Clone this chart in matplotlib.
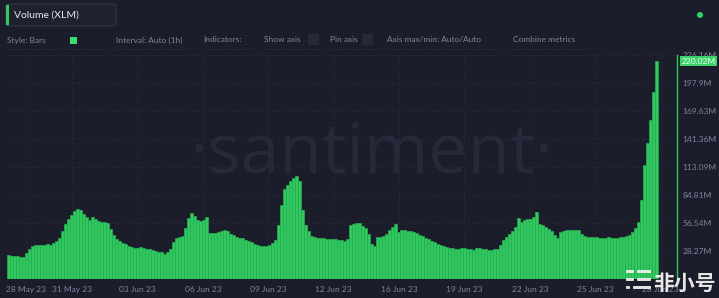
import numpy as np
import matplotlib
matplotlib.use("Agg")
import matplotlib.pyplot as plt
from matplotlib.patches import Rectangle, FancyBboxPatch, Ellipse

# Volume (XLM), millions, one bar per interval from 28 May 23 to 28 Jun 23
volume_m = [
    24.2, 23.7, 23.2, 23.2, 22.7, 22.7, 26.3, 30.3, 33.8, 34.3,
    34.3, 34.8, 34.3, 35.3, 34.3, 36.4, 38.4, 41.9, 48.5, 55.5,
    60.6, 64.6, 68.7, 70.2, 69.7, 66.1, 62.1, 59.6, 62.6, 60.1,
    58.6, 57.6, 57.6, 56.6, 50.5, 44.4, 39.9, 38.4, 36.4, 35.4,
    33.8, 32.8, 31.3, 31.8, 32.3, 31.3, 30.3, 29.8, 29.3, 28.3,
    27.3, 26.8, 25.3, 27.3, 30.3, 37.4, 41.4, 42.4, 43.9, 51.5,
    61.6, 66.7, 63.6, 59.6, 58.6, 59.6, 62.6, 46.5, 46.5, 46.5,
    47.5, 48.0, 49.5, 48.0, 45.9, 44.4, 42.4, 41.9, 41.4, 39.4,
    37.9, 36.9, 35.4, 34.3, 33.8, 33.3, 33.8, 34.3, 35.9, 39.4,
    54.5, 74.7, 90.9, 94.9, 99.0, 102.0, 104.0, 99.0, 69.7, 54.5,
    48.5, 43.9, 42.4, 41.4, 40.9, 40.9, 40.4, 40.4, 40.4, 39.9,
    39.4, 38.9, 38.4, 40.4, 54.5, 56.0, 56.6, 56.6, 53.5, 51.5,
    45.4, 35.4, 33.3, 42.4, 42.4, 43.9, 45.4, 49.0, 52.5, 55.5,
    47.5, 49.0, 49.5, 48.5, 48.5, 47.5, 46.5, 44.4, 43.4, 41.9,
    40.4, 38.4, 36.9, 35.4, 34.3, 33.3, 32.3, 31.8, 31.3, 29.8,
    29.8, 30.8, 30.8, 30.3, 30.3, 29.3, 30.8, 31.8, 30.3, 29.8,
    29.3, 29.3, 29.8, 30.3, 34.3, 39.4, 42.9, 45.9, 48.5, 52.5,
    61.6, 57.6, 59.1, 60.1, 60.6, 62.6, 67.7, 56.0, 54.5, 53.0,
    50.5, 48.0, 44.4, 41.9, 47.5, 48.5, 49.5, 49.5, 49.5, 49.5,
    49.0, 45.4, 43.9, 42.9, 42.4, 42.4, 42.4, 41.9, 41.4, 41.9,
    42.4, 41.4, 41.4, 41.9, 42.4, 42.9, 43.4, 44.9, 47.0, 51.0,
    57.6, 79.8, 115.1, 137.3, 160.5, 188.8, 220.02,
]
date_labels = ["28 May 23", "31 May 23", "03 Jun 23", "06 Jun 23", "09 Jun 23",
               "12 Jun 23", "16 Jun 23", "19 Jun 23", "22 Jun 23", "25 Jun 23",
               "28 Jun 23"]
y_ticks = [28.27, 56.54, 84.81, 113.09, 141.36, 169.63, 197.90, 226.16]
y_tick_labels = ["28.27M", "56.54M", "84.81M", "113.09M", "141.36M",
                 "169.63M", "197.9M", "226.16M"]
last_label = "220.02M"

BG = "#1b1d2a"
GREEN = "#31c95f"
MUTED = "#7f84a0"
W, H = 719, 298

plt.rcParams["font.family"] = ["Lato", "DejaVu Sans"]
fig = plt.figure(figsize=(W / 100, H / 100), dpi=100, facecolor=BG)

# plot area in pixels: x 7..677, y 55..279
ax = fig.add_axes([7 / W, (H - 279) / H, 670 / W, 224 / H], facecolor=BG)
x = np.arange(len(volume_m))
ax.bar(x, volume_m, width=1.0, color=GREEN, edgecolor="#27ae52",
       linewidth=0.5, zorder=3)
ax.set_xlim(-0.5, -0.5 + 670 / 3)
ax.set_ylim(0, y_ticks[-1])

tick_pos = [6.0] + list(21.2 + 21.8 * np.arange(len(date_labels) - 1))
ax.set_xticks(tick_pos)
ax.set_xticklabels(date_labels, fontsize=6, color=MUTED)
ax.yaxis.tick_right()
ax.set_yticks(y_ticks)
ax.set_yticklabels(y_tick_labels, fontsize=6, color=MUTED)
ax.tick_params(length=0, pad=4)
ax.tick_params(axis="x", pad=5)
ax.grid(True, color="#262939", linestyle=(0, (3, 3)), linewidth=0.6, zorder=0)
for side in ["top", "left", "bottom"]:
    ax.spines[side].set_visible(False)
ax.spines["right"].set_color(GREEN)
ax.spines["right"].set_linewidth(1.0)

# watermark
ax.text(0.545, 0.555, "\u00b7santiment\u00b7", transform=ax.transAxes,
        ha="center", va="center", fontsize=50, color="#262939",
        family=["Open Sans", "DejaVu Sans"], zorder=1)

# current value label
ax.annotate(last_label, xy=(1.0, volume_m[-1]), xycoords=("axes fraction", "data"),
            xytext=(3, 0), textcoords="offset points", ha="left", va="center",
            fontsize=6, color="#e9fff0",
            bbox=dict(boxstyle="square,pad=0.15", fc="#3bd26a", ec="none"),
            annotation_clip=False, zorder=5)

# header box
fig.patches.append(FancyBboxPatch((6 / W, (H - 26) / H), 110 / W, 22 / H,
                                  boxstyle="round,pad=0,rounding_size=0.006",
                                  transform=fig.transFigure, fc="#1d2130",
                                  ec="#2f3a44", lw=0.8))
fig.patches.append(Rectangle((6 / W, (H - 25) / H), 2.5 / W, 20 / H,
                             transform=fig.transFigure, fc=GREEN, ec="none"))
fig.text(14 / W, (H - 15) / H, "Volume (XLM)", fontsize=7.5, color="#e8e9ef",
         va="center")
fig.patches.append(Ellipse((700 / W, (H - 15) / H), 6 / W, 6 / H,
                           transform=fig.transFigure, fc="#2bd35f", ec="none"))

# controls row
row_y = (H - 40) / H
controls = [(7, "Style: Bars"), (116, "Interval: Auto (1h)"), (203, "Indicators:"),
            (264, "Show axis"), (330, "Pin axis"), (387, "Axis max/min: Auto/Auto"),
            (513, "Combine metrics")]
for px, label in controls:
    fig.text(px / W, row_y, label, fontsize=6, color=MUTED, va="center")
fig.patches.append(Rectangle((70 / W, (H - 44) / H), 7 / W, 7 / H,
                             transform=fig.transFigure, fc="#3ddc6f", ec="none"))
for px in [308, 362]:
    fig.patches.append(Rectangle((px / W, (H - 45) / H), 11 / W, 11 / H,
                                 transform=fig.transFigure, fc="#262938", ec="none"))
for x0, x1 in [(7, 58), (62, 106), (116, 190), (203, 250), (264, 320),
               (330, 378), (387, 497), (513, 590)]:
    fig.lines.append(plt.Line2D([x0 / W, x1 / W], [(H - 49) / H] * 2,
                                transform=fig.transFigure, color="#242736", lw=0.6))

# bottom-right site mark
for i, (w1, w2) in enumerate([(8, 14), (8, 14), (4, 18)]):
    yy = (H - 273 - i * 8) / H
    fig.patches.append(FancyBboxPatch((626 / W, yy), w1 / W, 3 / H,
                                      boxstyle="round,pad=0,rounding_size=0.002",
                                      transform=fig.transFigure, fc="#f2f2f2",
                                      ec="none", alpha=0.92))
    fig.patches.append(FancyBboxPatch(((626 + w1 + 3) / W, yy), w2 / W, 3 / H,
                                      boxstyle="round,pad=0,rounding_size=0.002",
                                      transform=fig.transFigure, fc="#f2f2f2",
                                      ec="none", alpha=0.92))
fig.text(684 / W, (H - 283) / H, "非小号", fontsize=15, color="#f2f2f2",
         family=["Noto Sans CJK SC", "DejaVu Sans"], fontweight="bold",
         ha="center", va="center", alpha=0.95)

fig.savefig("out.png", dpi=100, facecolor=BG)
